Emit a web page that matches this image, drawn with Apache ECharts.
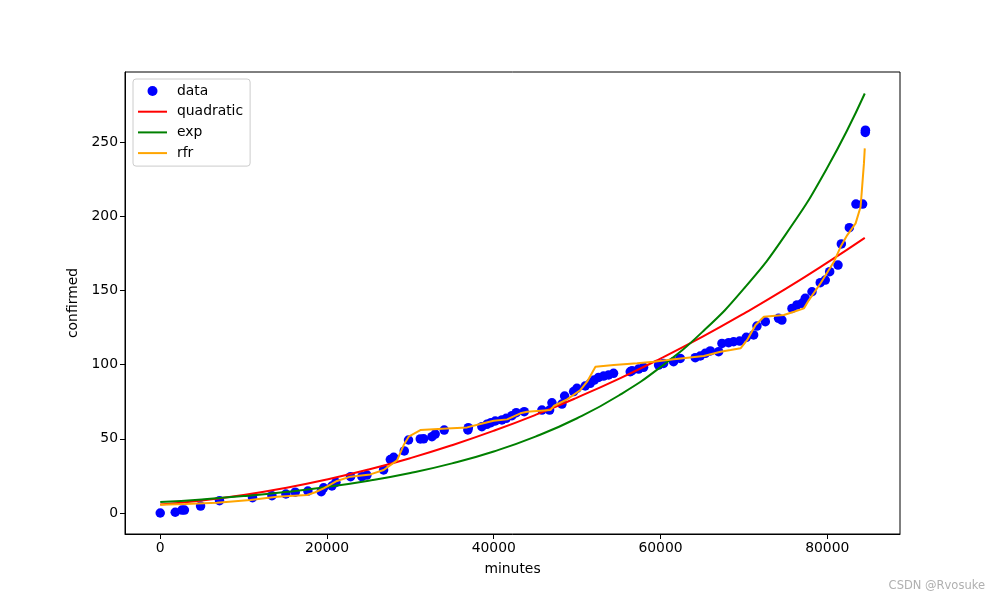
<!DOCTYPE html>
<html>
<head>
<meta charset="utf-8">
<script src="https://cdn.jsdelivr.net/npm/echarts@6/dist/echarts.min.js"></script>
<style>html,body{margin:0;padding:0;background:#fff}#c{width:1000px;height:600px}</style>
</head>
<body>
<div id="c"></div>
<script>
// scatter data (minutes, confirmed)
const dataX = [0,1800,2600,2900,4840,7110,11070,13400,15070,16190,17710,19310,19590,20590,21070,22830,24190,24790,26790,27600,28000,29270,29780,31190,31590,32590,32980,34060,36900,36950,38580,39180,39660,40180,40980,41500,42180,42700,43660,45780,46700,46980,48180,48500,49580,49980,50970,51570,52050,52570,53170,53770,54370,56370,56580,57370,57970,59770,60370,61570,62370,64170,64770,65370,65970,66970,67370,68170,68770,69490,70290,71170,71570,72570,74160,74560,75770,76370,76970,77360,78170,79160,79760,80290,81290,81690,82650,83440,84240,84560,84580];
const dataY = [0,0.5,2,2,4.7,8.3,10.3,11.7,12.8,14,14.8,14.4,17,18.2,20.7,24.5,24.5,25.6,29,36,37.5,41.8,49.2,49.9,50,51.4,53.2,55.9,56,57.5,58.2,59.8,60.9,62,62.7,63.8,65.6,67.6,68.3,69.4,69.4,74.3,73.4,78.8,81.8,84,85.6,87.4,89.6,91.4,92.3,93,94.1,95.2,95.9,97,98.2,99.7,100.8,102,104.2,104.7,105.8,107.6,109.2,108.7,114.3,114.8,115.4,115.9,118.4,120,126,128.9,131.2,130,137.9,140.2,141.3,144.7,149.1,155.2,157,162.6,167.1,181.3,192.3,208.2,208.2,256.5,258];

// fitted curves
const curveX = [0,5000,10000,15000,20000,25000,30000,35000,40000,45000,50000,55000,60000,65000,70000,75000,80000,84500];
const quadY  = [5.8,8.5,12.2,16.9,22.6,29.3,37.0,45.7,55.4,66.1,77.8,90.4,104.1,118.7,134.4,151.0,168.7,185.4];
const expY   = [7.4,9.18,11.39,14.13,17.52,21.74,26.96,33.45,41.49,51.47,63.85,79.2,98.3,121.9,151.2,187.6,232.7,282.7];

const rfrX = [0,3000,6800,10800,14000,17600,18600,19600,21200,22800,25200,26800,28400,29200,29800,31200,34400,36800,38400,40000,41600,43200,44000,46800,47200,48800,50400,51200,52200,54400,57200,59200,61600,65200,67200,68400,69600,70400,71400,72400,74800,76000,77200,77800,79200,80800,81600,82400,83400,84000,84200,84400,84500];
const rfrY = [5.5,6.0,6.9,8.8,11,12.1,14,16.6,21.6,24.5,26,29,35.5,45.8,51.4,55.9,57,57.7,60,62.2,63.1,67.2,68.3,69.4,72.1,76.6,82.9,88.5,98.6,99.7,100.9,102,103.6,105.8,108.7,109.8,111,116.6,126.7,132.3,133.4,135.6,137.9,143.5,154.8,169.3,179.4,187.3,195.2,206.4,221,235.6,245.7];

const xTicks = [0,20000,40000,60000,80000];
const yTicks = [0,50,100,150,200,250];

const zip = (xs, ys) => xs.map((x, i) => [x, ys[i]]);
const FONT = 'DejaVu Sans';
const noSym = {color: 'rgba(0,0,0,0)', borderWidth: 0};

const chart = echarts.init(document.getElementById('c'), null, {renderer: 'canvas'});
chart.setOption({
  animation: false,
  backgroundColor: '#fff',
  textStyle: {fontFamily: FONT},
  grid: {left: 125, right: 100, top: 72, bottom: 66, show: true, borderColor: '#000', borderWidth: 1, backgroundColor: 'transparent'},
  legend: {
    left: 133, top: 79, orient: 'vertical',
    padding: [5, 7, 6, 4],
    itemWidth: 29, itemHeight: 10, itemGap: 6.7,
    backgroundColor: '#fff', borderColor: '#cccccc', borderWidth: 1, borderRadius: 3,
    textStyle: {fontFamily: FONT, fontSize: 13.9, color: '#000', padding: [0, 0, 0, 5]},
    data: [
      {name: 'data', icon: 'circle', itemStyle: {color: 'blue'}},
      {name: 'quadratic', itemStyle: noSym},
      {name: 'exp', itemStyle: noSym},
      {name: 'rfr', itemStyle: noSym}
    ]
  },
  xAxis: {
    type: 'value', min: -4225, max: 88725,
    name: 'minutes', nameLocation: 'middle', nameGap: 28,
    nameTextStyle: {fontFamily: FONT, fontSize: 13.9, color: '#000'},
    axisLine: {show: true, onZero: false, lineStyle: {color: '#000', width: 1}},
    axisTick: {show: true, length: 5, lineStyle: {color: '#000'}, customValues: xTicks},
    axisLabel: {color: '#000', fontSize: 13.9, fontFamily: FONT, margin: 7, customValues: xTicks, formatter: v => String(v)},
    splitLine: {show: false}
  },
  yAxis: {
    type: 'value', min: -14.15, max: 297.2,
    name: 'confirmed', nameLocation: 'middle', nameGap: 42,
    nameTextStyle: {fontFamily: FONT, fontSize: 13.9, color: '#000'},
    axisLine: {show: true, onZero: false, lineStyle: {color: '#000', width: 1}},
    axisTick: {show: true, length: 5, lineStyle: {color: '#000'}, customValues: yTicks},
    axisLabel: {color: '#000', fontSize: 13.9, fontFamily: FONT, margin: 7, customValues: yTicks, formatter: v => String(v)},
    splitLine: {show: false}
  },
  series: [
    {name: 'data', type: 'scatter', data: zip(dataX, dataY), symbol: 'circle', symbolSize: 9.5, itemStyle: {color: 'blue', opacity: 1}, z: 1},
    {name: 'quadratic', type: 'line', data: zip(curveX, quadY), smooth: true, symbol: 'none', lineStyle: {color: 'red', width: 2}, itemStyle: {color: 'red'}, z: 2},
    {name: 'exp', type: 'line', data: zip(curveX, expY), smooth: true, symbol: 'none', lineStyle: {color: 'green', width: 2}, itemStyle: {color: 'green'}, z: 3},
    {name: 'rfr', type: 'line', data: zip(rfrX, rfrY), symbol: 'none', lineStyle: {color: 'orange', width: 2}, itemStyle: {color: 'orange'}, z: 4}
  ],
  graphic: [{
    type: 'text', right: 15, top: 580,
    style: {text: 'CSDN @Rvosuke', fill: '#b0b0b0', font: '11.5px "DejaVu Sans"'}
  }]
});
</script>
</body>
</html>
